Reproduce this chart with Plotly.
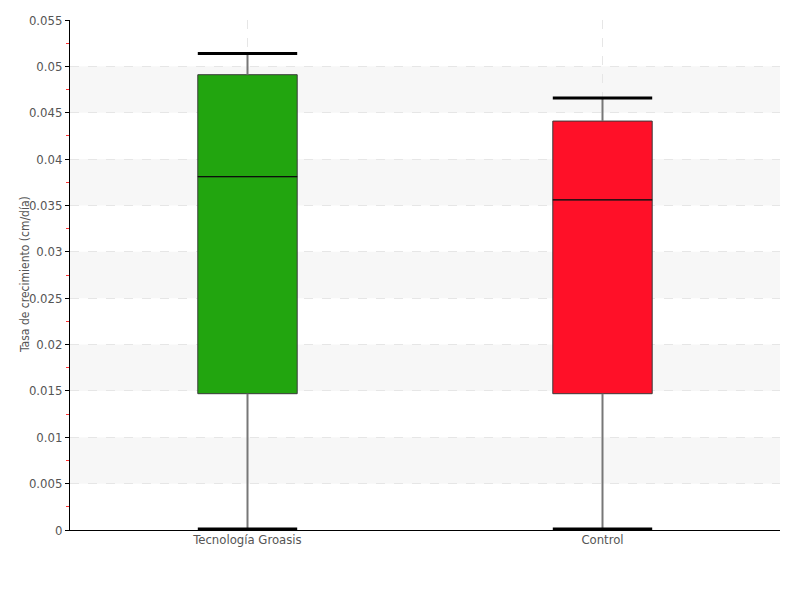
import plotly.graph_objects as go

categories = ["Tecnología Groasis", "Control"]
colors = ["#22a50f", "#ff1028"]
mins = [0.0001, 0.0001]
q1s = [0.0147, 0.0147]
medians = [0.0381, 0.0356]
q3s = [0.0491, 0.0441]
maxs = [0.0514, 0.0466]
ytick_vals = [0, 0.005, 0.01, 0.015, 0.02, 0.025, 0.03, 0.035, 0.04, 0.045, 0.05, 0.055]
ytick_text = ["0", "0.005", "0.01", "0.015", "0.02", "0.025", "0.03", "0.035", "0.04", "0.045", "0.05", "0.055"]
y_title = "Tasa de crecimiento (cm/día)"

FONT = "DejaVu Sans Condensed, Liberation Sans Narrow, sans-serif"
half = 0.14
xs = list(range(len(categories)))

fig = go.Figure()
for i, cat in enumerate(categories):
    fig.add_trace(go.Box(
        x=[i], q1=[q1s[i]], median=[medians[i]], q3=[q3s[i]],
        lowerfence=[mins[i]], upperfence=[maxs[i]],
        width=2 * half, whiskerwidth=0,
        fillcolor=colors[i], line=dict(color="#3a3a3a", width=1),
        name=cat, showlegend=False, hoverinfo="skip"))
    # whiskers
    fig.add_trace(go.Scatter(
        x=[i, i, None, i, i], y=[q3s[i], maxs[i], None, q1s[i], mins[i]],
        mode="lines", line=dict(color="#777777", width=2),
        showlegend=False, hoverinfo="skip"))
    # caps
    fig.add_trace(go.Scatter(
        x=[i - half, i + half, None, i - half, i + half],
        y=[maxs[i], maxs[i], None, mins[i], mins[i]],
        mode="lines", line=dict(color="#000000", width=3),
        showlegend=False, hoverinfo="skip"))
    # median
    fig.add_trace(go.Scatter(
        x=[i - half, i + half], y=[medians[i], medians[i]],
        mode="lines", line=dict(color="#000000", width=1),
        showlegend=False, hoverinfo="skip"))

# alternating bands
for k in range(1, len(ytick_vals) - 1, 2):
    fig.add_shape(type="rect", xref="paper", yref="y", x0=0, x1=1,
                  y0=ytick_vals[k], y1=ytick_vals[k + 1],
                  fillcolor="#f7f7f7", line_width=0, layer="below")

fig.add_annotation(text=y_title, xref="paper", yref="paper", x=-45 / 710, y=0.5,
                   textangle=-90, showarrow=False, xanchor="center", yanchor="middle",
                   font=dict(size=12, color="#555555"))

fig.update_layout(
    width=800, height=600,
    margin=dict(l=62, r=28, t=12, b=78),
    plot_bgcolor="white", paper_bgcolor="white",
    font=dict(family=FONT, size=13, color="#555555"),
    xaxis=dict(range=[-0.5, 1.5], tickvals=xs, ticktext=categories,
               showgrid=True, gridcolor="#e6e6e6", griddash="dash", gridwidth=1,
               showline=True, linecolor="#000000", linewidth=1,
               ticks="", zeroline=False, automargin=False, ticklabelstandoff=-3,
               tickfont=dict(size=13, color="#555555")),
    yaxis=dict(range=[0, 0.055], tickvals=ytick_vals, ticktext=ytick_text,
               showgrid=True, gridcolor="#e6e6e6", griddash="dash", gridwidth=1,
               showline=True, linecolor="#000000", linewidth=1,
               ticks="outside", ticklen=4, tickcolor="#000000",
               minor=dict(ticks="outside", ticklen=3, tickwidth=1, tickcolor="#ff3333", dtick=0.0025, showgrid=False),
               zeroline=False, automargin=False,
               tickfont=dict(size=13, color="#555555")),
)

fig.write_html("out.html")
